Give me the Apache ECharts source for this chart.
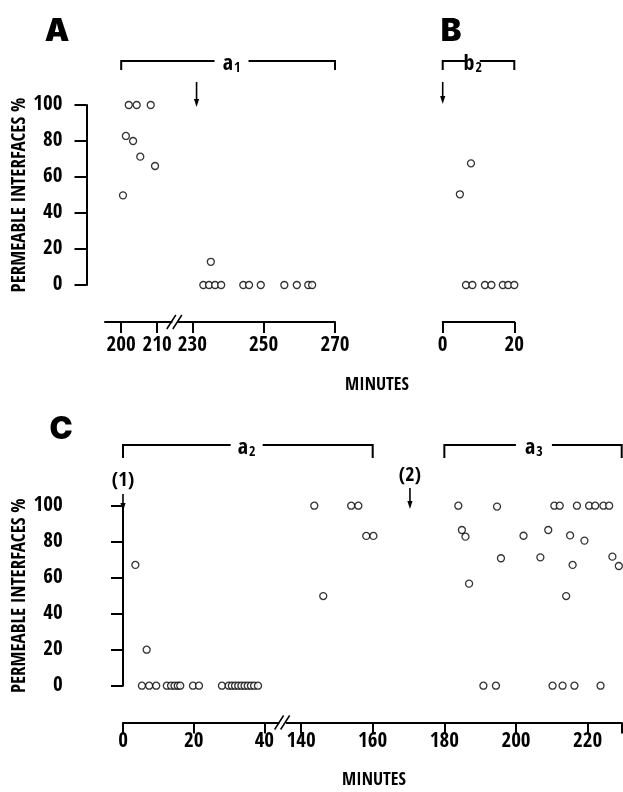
<!DOCTYPE html>
<html><head><meta charset="utf-8">
<script src="https://cdn.jsdelivr.net/npm/echarts@6/dist/echarts.min.js"></script>
<style>html,body{margin:0;padding:0;background:#fff}#c{width:623px;height:792px}</style>
</head><body><div id="c"></div>
<script>
// ---- tick values ----
const yTicks = [0, 20, 40, 60, 80, 100];
const xTicksA1 = [200, 210];
const xTicksA2 = [230, 250, 270];
const xTicksB = [0, 20];
const xTicksC1 = [0, 20, 40];
const xTicksC2 = [140, 160, 180, 200, 220];

// ---- data: panel A (minutes, % permeable interfaces) ----
const aMinutes = [200.5, 201.3, 202.1, 203.3, 204.3, 205.3, 208.2, 209.4,
  233.1, 234.7, 235.2, 236.4, 238.1, 244.3, 245.9, 249.2, 255.8, 259.3, 262.5, 263.6];
const aPercent = [49.8, 82.8, 100, 80, 100, 71.3, 100, 66.1,
  0, 0, 12.9, 0, 0, 0, 0, 0, 0, 0, 0, 0];

// ---- data: panel B ----
const bMinutes = [4.8, 6.5, 7.9, 8.3, 11.8, 13.6, 16.8, 18.3, 20];
const bPercent = [50.4, 0, 67.6, 0, 0, 0, 0, 0, 0];

// ---- data: panel C ----
const cMinutes = [3.5, 5.35, 6.7, 7.4, 9.4, 12.4, 13.6, 14.6, 15.5, 16.2, 19.8, 21.5,
  28.0, 29.9, 30.8, 31.7, 32.6, 33.5, 34.4, 35.3, 36.2, 37.1, 38.2,
  143.7, 146.2, 154, 156, 158.2, 160.2,
  183.9, 184.9, 185.9, 186.9, 190.9, 194.4, 194.7, 195.8, 202.1, 206.8, 209, 210.2, 210.7,
  212.2, 213, 214, 215.1, 215.8, 216.3, 217, 219.1, 220.4, 222.1, 223.6, 224.4, 226, 226.9, 228.7];
const cPercent = [67.1, 0, 20, 0, 0, 0, 0, 0, 0, 0, 0, 0,
  0, 0, 0, 0, 0, 0, 0, 0, 0, 0, 0,
  100, 49.8, 100, 100, 83.2, 83.2,
  100, 86.5, 82.8, 56.7, 0, 0, 99.5, 70.8, 83.3, 71.3, 86.5, 0, 100,
  100, 0, 49.8, 83.5, 67.1, 0, 100, 80.6, 100, 100, 0, 100, 100, 71.7, 66.5];

const FONT = '"Open Sans Condensed", "Roboto Condensed", sans-serif';
const HEAVY = '"Inter", "DejaVu Sans", sans-serif';
const K = '#000';

function pairs(xs, ys, test) {
  const out = [];
  for (let i = 0; i < xs.length; i++) if (test(xs[i])) out.push([xs[i], ys[i]]);
  return out;
}

const grids = [
  { left: 105,   top: 105,   width: 66.6, height: 180 },   // 0 A left
  { left: 178,   top: 105,   width: 157,  height: 180 },   // 1 A right
  { left: 442.7, top: 105,   width: 71.6, height: 180 },   // 2 B
  { left: 123,   top: 505.7, width: 155.5, height: 180 },  // 3 C left
  { left: 286.7, top: 505.7, width: 335,  height: 180 }    // 4 C right
].map(g => Object.assign({ containLabel: false, outerBoundsMode: 'none' }, g));

function xAx(gi, min, max, ticks, extra, offset, margin) {
  return {
    type: 'value', gridIndex: gi, min, max, position: 'bottom', offset,
    axisLine: { show: true, onZero: false, lineStyle: { color: K, width: 2 } },
    axisTick: { show: true, length: 11, lineStyle: { color: K, width: 2 }, customValues: ticks.concat(extra) },
    axisLabel: { show: true, customValues: ticks, margin, color: K, fontFamily: FONT, fontWeight: 800, fontSize: 21 },
    splitLine: { show: false }
  };
}
function yAx(gi, visible, offset) {
  return {
    type: 'value', gridIndex: gi, min: 0, max: 100, interval: 20, offset, show: visible,
    axisLine: { show: true, lineStyle: { color: K, width: 2 } },
    axisTick: { show: true, length: 12, lineStyle: { color: K, width: 2 } },
    axisLabel: { margin: 24, color: K, fontFamily: FONT, fontWeight: 800, fontSize: 21,
      customValues: yTicks },
    splitLine: { show: false },
    name: visible ? 'PERMEABLE INTERFACES %' : '',
    nameLocation: 'middle', nameRotate: 90, nameGap: 47,
    nameTextStyle: { color: K, fontFamily: FONT, fontWeight: 800, fontSize: 19 }
  };
}

const xAxes = [
  xAx(0, 195.5, 214, xTicksA1, [], 37, 13),
  xAx(1, 226, 270, xTicksA2, [], 37, 13),
  xAx(2, 0, 20, xTicksB, [], 37, 13),
  xAx(3, 0, 44, xTicksC1, [], 36.8, 9),
  xAx(4, 136, 229.5, xTicksC2, [229.5], 36.8, 9)
];
const yAxes = [yAx(0, true, 18.5), yAx(1, false, 0), yAx(2, false, 0), yAx(3, true, 36.3), yAx(4, false, 0)];

function sc(i, data) {
  return {
    type: 'scatter', xAxisIndex: i, yAxisIndex: i, data, clip: false,
    symbol: 'circle', symbolSize: 7,
    itemStyle: { color: '#fff', borderColor: K, borderWidth: 1.3 },
    emphasis: { disabled: true }, silent: true
  };
}

const option = {
  animation: false,
  backgroundColor: '#fff',
  grid: grids, xAxis: xAxes, yAxis: yAxes,
  series: [
    sc(0, pairs(aMinutes, aPercent, t => t < 220)),
    sc(1, pairs(aMinutes, aPercent, t => t >= 220)),
    sc(2, pairs(bMinutes, bPercent, t => true)),
    sc(3, pairs(cMinutes, cPercent, t => t < 100)),
    sc(4, pairs(cMinutes, cPercent, t => t >= 100))
  ]
};

const chart = echarts.init(document.getElementById('c'), null, { renderer: 'canvas' });
chart.setOption(option);

// ---- annotations (positions derived from axes) ----
const px = (g, x) => chart.convertToPixel({ gridIndex: g }, [x, 0])[0];
const G = [];
const ls = { stroke: K, lineWidth: 2 };

function text(x, y, t, size, font, weight) {
  G.push({
    type: 'text', x, y,
    style: { text: t, fill: K, font: weight + ' ' + size + 'px ' + font, align: 'center', verticalAlign: 'middle' }
  });
}
function bracket(x1, x2, y, drop, lx, gap, main, sub) {
  G.push({ type: 'polyline', shape: { points: [[x1, y + drop], [x1, y], [lx - gap, y]] }, style: Object.assign({ fill: null }, ls) });
  G.push({ type: 'polyline', shape: { points: [[lx + gap, y], [x2, y], [x2, y + drop]] }, style: Object.assign({ fill: null }, ls) });
  G.push({
    type: 'text', x: lx, y: y + 3,
    style: {
      text: '{m|' + main + '}{s|' + sub + '}', align: 'center', verticalAlign: 'middle',
      rich: {
        m: { fontFamily: FONT, fontWeight: 800, fontSize: 22, fill: K, color: K },
        s: { fontFamily: FONT, fontWeight: 800, fontSize: 14, fill: K, color: K, padding: [9, 0, 0, 1] }
      }
    }
  });
}
function arrow(x, y1, y2) {
  G.push({ type: 'line', shape: { x1: x, y1, x2: x, y2: y2 - 5 }, style: { stroke: K, lineWidth: 1.6 } });
  G.push({ type: 'polygon', shape: { points: [[x - 2.6, y2 - 8], [x + 2.6, y2 - 8], [x, y2]] }, style: { fill: K } });
}
function breakMark(x, y) {
  G.push({ type: 'line', shape: { x1: x - 8, y1: y + 7, x2: x + 1, y2: y - 7 }, style: { stroke: K, lineWidth: 1.5 } });
  G.push({ type: 'line', shape: { x1: x - 2, y1: y + 7, x2: x + 7, y2: y - 7 }, style: { stroke: K, lineWidth: 1.5 } });
}

// panel letters
text(57, 32, 'A', 31, HEAVY, '900');
text(451, 32, 'B', 31, HEAVY, '900');
text(61, 430, 'C', 31, HEAVY, '900');
// axis titles
text(377, 385, 'MINUTES', 18, FONT, '800');
text(374, 780, 'MINUTES', 18, FONT, '800');

// brackets
bracket(px(0, 200), px(1, 270), 61, 9, px(1, 241), 17, 'a', '1');
bracket(px(2, 0), px(2, 20), 61, 9, px(2, 8.4), 7, 'b', '2');
bracket(px(3, 0), px(4, 160), 445, 13, px(3, 35), 16, 'a', '2');
bracket(px(4, 180), px(4, 229.5), 445, 13, px(4, 205), 18, 'a', '3');

// arrows (time of treatment)
arrow(px(1, 231.2), 82, 107);
arrow(px(2, 0), 82, 104);
arrow(px(3, 0), 494, 511);
arrow(px(4, 170.4), 488, 509);
text(px(3, 0), 481, '(1)', 20, FONT, '800');
text(px(4, 170.4), 476, '(2)', 20, FONT, '800');

// axis breaks
breakMark((px(0, 214) + px(1, 226)) / 2, 322);
breakMark((px(3, 44) + px(4, 136)) / 2, 722.5);

chart.setOption({ graphic: G });
</script>
</body></html>
